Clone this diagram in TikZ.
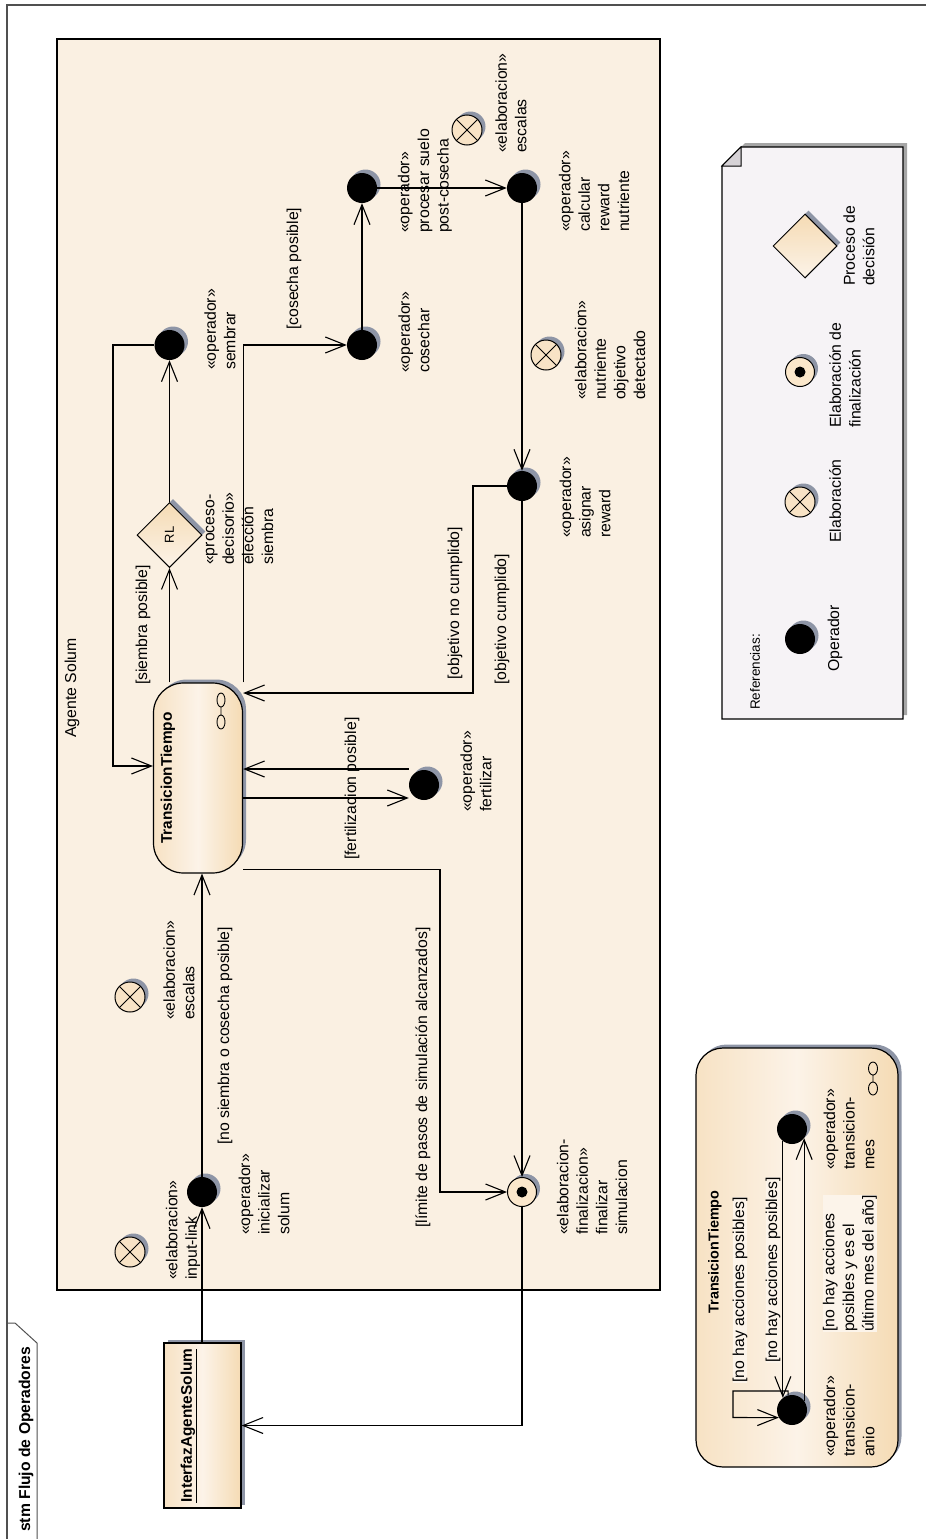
\documentclass[tikz,border=0pt]{standalone}
\usepackage{fontspec}
\setmainfont{Liberation Sans}
\usetikzlibrary{arrows.meta,shapes.geometric,shadows,calc}

\definecolor{agentfill}{HTML}{FAF0E2}
\definecolor{elabfill}{HTML}{F8E3C6}
\definecolor{peach}{HTML}{F5DBB4}
\definecolor{peachlight}{HTML}{FCF3E8}
\definecolor{peachleft}{HTML}{F7E2C4}
\definecolor{shadowc}{HTML}{8E95A6}
\definecolor{notefill}{HTML}{F6F3F6}
\definecolor{foldc}{HTML}{D6D2D6}
\definecolor{noteshadow}{HTML}{A6A6A6}
\definecolor{framec}{HTML}{505050}
\definecolor{gradbg}{HTML}{FCF4EA}
\definecolor{finfill}{HTML}{FBE7CB}

\newcommand\lblfont{\fontsize{15.8}{19.6}\selectfont}
\newcommand\boldlbl{\fontsize{15.4}{19}\selectfont\bfseries}

\begin{document}
\begin{tikzpicture}[x=1pt,y=-1pt,
  lbl/.style={rotate=90, anchor=west, inner sep=0pt, font=\lblfont, align=left},
  sublbl/.style={lbl, fill=gradbg},
  shd/.style={drop shadow={shadow xshift=3.5pt, shadow yshift=3.5pt, fill=shadowc, opacity=1}},
  opdot/.style={circle, fill=black, minimum size=30pt, inner sep=0pt, shd},
  elab/.style={circle, draw=black, line width=1pt, fill=elabfill, minimum size=30pt, inner sep=0pt, shd,
    path picture={\draw[line width=1pt] (path picture bounding box.south west) -- (path picture bounding box.north east)
      (path picture bounding box.north west) -- (path picture bounding box.south east);}},
  finst/.style={circle, draw=black, line width=1pt, fill=finfill, minimum size=29pt, inner sep=0pt, shd,
    path picture={\fill[black] (path picture bounding box.center) circle (5.5pt);}},
  decision/.style={diamond, aspect=1, draw=black, line width=1pt, top color=peach, bottom color=peachlight,
    minimum width=65pt, minimum height=65pt, inner sep=0pt, shd},
  statebox/.style={rectangle, draw=black, line width=1.2pt, inner sep=0pt,
    left color=peachleft, right color=peach, middle color=peachlight, shd},
  flow/.style={line width=1.1pt, -{Straight Barb[length=20pt,width=16pt]}},
  icon/.style={line width=0.9pt}
]
\useasboundingbox (0,0) rectangle (926,1539);

% diagram frame and its name tab
\draw[framec, line width=1.2pt] (926,5) -- (7,5) -- (7,1539);
\draw[framec, line width=1pt] (7,1323) -- (15,1323) -- (37,1343) -- (37,1539);
\node[rotate=90, anchor=west, inner sep=0pt, font=\fontsize{15.7}{18}\selectfont\bfseries] (title) at (26,1532) {stm Flujo de Operadores};

% agent boundary
\draw[fill=agentfill, line width=1.2pt] (57,39) rectangle (660,1290);
\node[rotate=90, inner sep=0pt, font=\lblfont] (agenteT) at (72,688) {Agente Solum};

% states of the agent
\node[elab] (esc1) at (467,130) {};
\node[opdot] (procesar) at (362,188) {};
\node[opdot] (calcular) at (522,188) {};
\node[opdot] (cosechar) at (362,345) {};
\node[opdot] (sembrar) at (169.5,345) {};
\node[elab] (nutr) at (546,355) {};
\node[decision] (rl) at (169.5,535) {\rotatebox{90}{\fontsize{13}{15}\selectfont RL}};
\node[opdot] (asignar) at (522,486) {};
\node[statebox, rounded corners=30pt, minimum width=89pt, minimum height=190pt] (tt) at (198,778) {};
\node[rotate=90, inner sep=0pt, font=\boldlbl] (ttT) at (168,778) {TransicionTiempo};
\draw[icon] (221,700) ellipse (4 and 7) (221,722) ellipse (4 and 7) (221,707) -- (221,715);
\node[opdot] (fert) at (424,785) {};
\node[elab] (esc2) at (130,997) {};
\node[opdot] (init) at (202,1192) {};
\node[elab] (inputl) at (130,1252) {};
\node[finst] (final) at (522,1192) {};

% interface outside the agent
\node[statebox, minimum width=77pt, minimum height=165pt] (iface) at (202.5,1425.5) {};
\node[rotate=90, inner sep=0pt, font=\boldlbl] (ifaceT) at (189,1425.5) {\underline{InterfazAgenteSolum}};

% state labels
\node[lbl] (esc1L) at (511,153) {«elaboracion»\\escalas};
\node[lbl] (procesarL) at (425,233) {«operador»\\procesar suelo\\post-cosecha};
\node[lbl] (calcularL) at (594,232) {«operador»\\calcular\\reward\\nutriente};
\node[lbl] (cosecharL) at (414,373) {«operador»\\cosechar};
\node[lbl] (sembrarL) at (220,370) {«operador»\\sembrar};
\node[lbl] (nutrL) at (610,400) {«elaboracion»\\nutriente\\objetivo\\detectado};
\node[lbl] (rlL) at (239.5,565) {«proceso-\\decisorio»\\elección\\siembra};
\node[lbl] (asignarL) at (585,538) {«operador»\\asignar\\reward};
\node[lbl] (fertL) at (476,812) {«operador»\\fertilizar};
\node[lbl] (esc2L) at (179,1020) {«elaboracion»\\escalas};
\node[lbl] (initL) at (264,1235) {«operador»\\inicializar\\solum};
\node[lbl] (inputL) at (183,1280) {«elaboracion»\\input-link};
\node[lbl] (finalL) at (592,1235) {«elaboracion-\\finalizacion»\\finalizar\\simulacion};

% guard labels
\node[lbl] (gCosecha) at (294,330) {[cosecha posible]};
\node[lbl] (gSiembra) at (143,685) {[siembra posible]};
\node[lbl] (gNoCumplido) at (455,680) {[objetivo no cumplido]};
\node[lbl] (gCumplido) at (502,685) {[objetivo cumplido]};
\node[lbl] (gFert) at (352,860) {[fertilizacion posible]};
\node[lbl] (gLimite) at (423,1228) {[límite de pasos de simulación alcanzados]};
\node[lbl] (gNoSiembra) at (225,1145) {[no siembra o cosecha posible]};

% transitions
\draw[flow] (init |- iface.north) -- (init.south);
\draw[flow] (init.north) -- (init |- tt.south);
\draw[flow] (rl |- tt.north) -- (rl.south);
\draw[flow] (rl.north) -- (sembrar.south);
\coordinate (sw1) at (113,345);
\coordinate (sw2) at (113,766);
\draw[flow] (sembrar.west) -- (sw1) -- (sw2) -- (sw2 -| tt.west);
\draw[flow] (tt.north east) |- (cosechar.west);
\draw[flow] (cosechar.north) -- (procesar.south);
\draw[flow] (procesar.east) -- (calcular.west);
\draw[flow] (calcular.south) -- (asignar.north);
\coordinate (ta) at (473,693);
\draw[flow] (asignar.west) -| (ta) -- (ta -| tt.east);
\draw[flow] ([yshift=16pt]fert.west) -- ([yshift=16pt]fert.west -| tt.east);
\draw[flow] ([yshift=-13pt]fert.west -| tt.east) -- ([yshift=-13pt]fert.west);
\coordinate (lim) at (440,1192);
\draw[flow] ([yshift=4pt]tt.south east) -| (lim) -- (final.west);
\draw[flow] (asignar.south) -- (final.north);
\draw[flow] (final.south) |- (iface.east);

% legend note
\fill[noteshadow] (745,143) -- (907,143) -- (907,715) -- (726,715) -- (726,162) -- cycle;
\filldraw[fill=notefill, draw=black, line width=1.2pt] (741,147) -- (903,147) -- (903,719) -- (722,719) -- (722,166) -- cycle;
\filldraw[fill=foldc, draw=black, line width=1pt] (722,166) -- (741,147) -- (741,166) -- cycle;
\node[lbl, font=\fontsize{13.5}{16}\selectfont] (lgRef) at (755,710) {Referencias:};
\node[opdot] (lgOp) at (800,639) {};
\node[lbl] (lgOpL) at (835,672) {Operador};
\node[elab] (lgEl) at (800,502) {};
\node[lbl] (lgElL) at (835,543) {Elaboración};
\node[finst] (lgFin) at (800,372) {};
\node[lbl] (lgFinL) at (845,428) {Elaboración de\\finalización};
\node[decision, minimum width=64pt, minimum height=64pt] (lgDec) at (805,246) {};
\node[lbl] (lgDecL) at (859,286) {Proceso de\\decisión};

% TransicionTiempo submachine
\node[statebox, rounded corners=27pt, minimum width=202pt, minimum height=419pt] (sub) at (797,1257.5) {};
\node[rotate=90, inner sep=0pt, font=\fontsize{14.4}{18}\selectfont\bfseries] (subT) at (715,1252) {TransicionTiempo};
\draw[icon] (873,1068.5) ellipse (4.5 and 6.5) (873,1088.5) ellipse (4.5 and 6.5) (873,1075) -- (873,1082);
\node[opdot] (mes) at (792,1129) {};
\node[opdot] (anio) at (792,1410) {};
\node[sublbl] (gLoop) at (740,1383) {[no hay acciones posibles]};
\node[sublbl] (gBajar) at (773,1363) {[no hay acciones posibles]};
\node[sublbl] (gSubir) at (850,1332) {[no hay acciones\\posibles y es el\\último mes del año]};
\node[lbl] (mesL) at (849,1170) {«operador»\\transicion-\\mes};
\node[lbl] (anioL) at (849,1457) {«operador»\\transicion-\\anio};
\coordinate (lpA) at (733,1391);
\coordinate (lpB) at (733,1417.5);
\draw[flow] (anio.105) |- (lpA) -- (lpB) -- (anio.210);
\draw[flow] (mes.233) -- (anio.127);
\draw[flow] (anio.37) -- (mes.323);
\end{tikzpicture}
\end{document}
